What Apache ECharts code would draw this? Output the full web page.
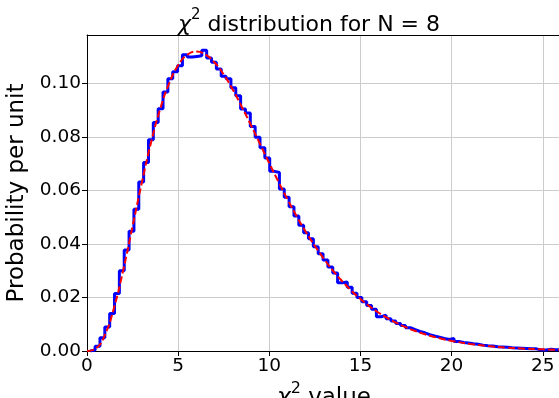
<!DOCTYPE html>
<html>
<head>
<meta charset="utf-8">
<script src="https://cdn.jsdelivr.net/npm/echarts@6/dist/echarts.min.js"></script>
<style>
  html, body { margin: 0; padding: 0; background: #fff; }
  #main { width: 559px; height: 398px; }
</style>
</head>
<body>
<div id="main"></div>
<script>
// histogram bins (start of the first bin, width of a bin)
var binStart = 0.18;
var binWidth = 0.266;
// probability per unit in each bin
var histValues = [
  0.0004, 0.0018, 0.0050, 0.0090, 0.0140, 0.0215, 0.0300, 0.0378, 0.0448, 0.0530,
  0.0632, 0.0705, 0.0790, 0.0855, 0.0906, 0.0969, 0.1018, 0.1045, 0.1067, 0.1108,
  0.1100, 0.1102, 0.1104, 0.1125, 0.1096, 0.1080, 0.1055, 0.1028, 0.1018, 0.0985,
  0.0955, 0.0905, 0.0890, 0.0840, 0.0800, 0.0760, 0.0722, 0.0672, 0.0668, 0.0606,
  0.0575, 0.0540, 0.0505, 0.0470, 0.0442, 0.0420, 0.0390, 0.0364, 0.0340, 0.0314,
  0.0292, 0.0255, 0.0258, 0.0238, 0.0216, 0.0200, 0.0184, 0.0170, 0.0156, 0.0128,
  0.0134, 0.0121, 0.0112, 0.0103, 0.0095, 0.0087, 0.0080, 0.0073, 0.0068, 0.0061,
  0.0056, 0.0052, 0.0047, 0.0043, 0.0047, 0.0036, 0.0032, 0.0030, 0.0027, 0.0025,
  0.0022, 0.0020, 0.0019, 0.0016, 0.0015, 0.0014, 0.0012, 0.0011, 0.0010, 0.0009,
  0.0008, 0.0008, 0.0004, 0.0004, 0.0007, 0.0005, 0.0004, 0.0004, 0.0004, 0.0003
];
// expected curve (red dashed)
var curveX = [0, 0.5, 1, 1.5, 2, 2.5, 3, 3.5, 4, 4.5, 5, 5.5, 6, 6.5, 7, 7.5, 8, 8.5, 9, 9.5,
  10, 10.5, 11, 11.5, 12, 12.5, 13, 13.5, 14, 14.5, 15, 15.5, 16, 16.5, 17, 17.5, 18, 18.5,
  19, 19.5, 20, 21, 22, 23, 24, 25, 26];
var curveY = [0, 0.00101, 0.00632, 0.01661, 0.03066, 0.04663, 0.06276, 0.07762, 0.09022, 0.1000,
  0.1069, 0.1108, 0.1120, 0.1109, 0.1079, 0.1034, 0.0977, 0.0912, 0.0844, 0.0773,
  0.0702, 0.0633, 0.0567, 0.0504, 0.0446, 0.0393, 0.0344, 0.0300, 0.0261, 0.02255,
  0.01944, 0.01671, 0.01431, 0.01223, 0.01041, 0.00885, 0.00750, 0.00634, 0.00535, 0.00450,
  0.00378, 0.00266, 0.00185, 0.00128, 0.00088, 0.00061, 0.00041];

var font = 'DejaVu Sans';

// step outline like a histtype='step' histogram
var stepData = [[binStart, 0]];
for (var i = 0; i < histValues.length; i++) {
  stepData.push([binStart + i * binWidth, histValues[i]]);
}
stepData.push([binStart + histValues.length * binWidth, histValues[histValues.length - 1]]);

var curveData = curveX.map(function (x, i) { return [x, curveY[i]]; });

// χ italic with a raised 2, rest plain
var supRich = function (size, supSize) {
  return {
    c: { fontFamily: font, fontSize: size, fontStyle: 'italic', fontWeight: 'normal', color: '#000', lineHeight: size + 6, verticalAlign: 'bottom' },
    t: { fontFamily: font, fontSize: size, fontWeight: 'normal', color: '#000', lineHeight: size + 6, verticalAlign: 'bottom' },
    s: { fontFamily: font, fontSize: supSize, fontWeight: 'normal', color: '#000', lineHeight: size + 6, verticalAlign: 'top' }
  };
};

var chart = echarts.init(document.getElementById('main'), null, { renderer: 'canvas' });
chart.setOption({
  animation: false,
  title: {
    text: '{c|χ}{s|2}{t| distribution for N = 8}',
    left: 304,
    top: 3,
    textAlign: 'center',
    textStyle: { fontWeight: 'normal', rich: supRich(22, 15) }
  },
  grid: { left: 87, top: 35, width: 474, height: 316, outerBoundsMode: 'none', containLabel: false },
  xAxis: [{
    type: 'value', min: 0, max: 26, interval: 5,
    name: '{c|χ}{s|2}{t| value}',
    nameLocation: 'middle', nameGap: 29,
    nameTextStyle: { rich: supRich(23, 16) },
    axisLine: { lineStyle: { color: '#000', width: 1 } },
    axisTick: { length: 5, lineStyle: { color: '#000' } },
    axisLabel: { fontFamily: font, fontSize: 18.5, color: '#000', margin: 6, showMaxLabel: false },
    splitLine: { show: true, lineStyle: { color: '#cccccc', width: 1 } }
  }, {
    // top spine only
    type: 'value', position: 'top', min: 0, max: 26,
    axisLine: { show: true, lineStyle: { color: '#000', width: 1 } },
    axisTick: { show: false }, axisLabel: { show: false }, splitLine: { show: false }
  }],
  yAxis: {
    type: 'value', min: 0, max: 0.1182, interval: 0.02,
    name: 'Probability per unit',
    nameLocation: 'middle', nameGap: 50,
    nameTextStyle: { fontFamily: font, fontSize: 23, color: '#000' },
    axisLine: { show: true, lineStyle: { color: '#000', width: 1 } },
    axisTick: { show: true, length: 5, lineStyle: { color: '#000' } },
    axisLabel: {
      fontFamily: font, fontSize: 18.5, color: '#000', margin: 6, showMaxLabel: false,
      formatter: function (v) { return v.toFixed(2); }
    },
    splitLine: { show: true, lineStyle: { color: '#cccccc', width: 1 } }
  },
  series: [
    {
      type: 'line',
      step: 'end',
      data: stepData,
      showSymbol: false,
      lineStyle: { color: '#0000ff', width: 3 },
      z: 2
    },
    {
      type: 'line',
      data: curveData,
      smooth: true,
      showSymbol: false,
      lineStyle: { color: '#ff0000', width: 2, type: [7, 3] },
      z: 3
    }
  ]
});
</script>
</body>
</html>
